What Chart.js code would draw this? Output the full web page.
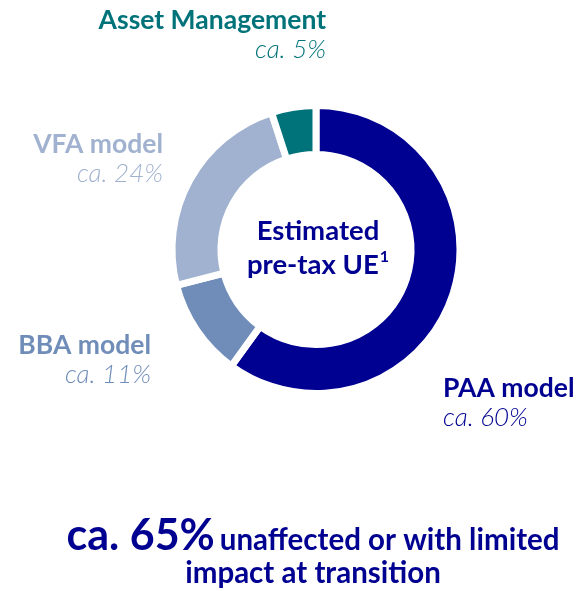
<!DOCTYPE html>
<html>
<head>
<meta charset="utf-8">
<script src="https://cdn.jsdelivr.net/npm/chart.js@4"></script>
<style>
  html, body { margin: 0; padding: 0; background: #fff; }
  #wrap { position: relative; width: 577px; height: 591px; }
</style>
</head>
<body>
<div id="wrap"><canvas id="c" width="577" height="591"></canvas></div>
<script>
// Datos
const categories = ['PAA model', 'BBA model', 'VFA model', 'Asset Management'];
const shares = [60, 11, 24, 5];
const shareLabels = ['ca. 60%', 'ca. 11%', 'ca. 24%', 'ca. 5%'];
const colors = ['#000091', '#6f8db8', '#a0b2cf', '#00737a'];
const centerLines = ['Estimated', 'pre-tax UE'];
const footnoteMark = '1';
const summaryValue = 'ca. 65%';
const summaryText = ['unaffected or with limited', 'impact at transition'];

// Posición de las etiquetas (x, línea base del nombre, alineación)
const labelPos = [
  { x: 443, y: 397, align: 'left' },
  { x: 151, y: 354, align: 'right' },
  { x: 163, y: 153, align: 'right' },
  { x: 326, y: 29, align: 'right' }
];

const FONT = 'Lato, "Open Sans", sans-serif';

const labelPlugin = {
  id: 'labels',
  afterDraw(chart) {
    const ctx = chart.ctx;
    ctx.save();
    ctx.textBaseline = 'alphabetic';

    // etiquetas de cada segmento
    categories.forEach((name, i) => {
      const p = labelPos[i];
      ctx.textAlign = p.align;
      ctx.fillStyle = colors[i];
      ctx.font = `bold 26.5px ${FONT}`;
      ctx.fillText(name, p.x, p.y);
      ctx.font = `italic 300 26px ${FONT}`;
      ctx.fillText(shareLabels[i], p.x, p.y + 29);
    });

    // texto central
    const arc = chart.getDatasetMeta(0).data[0];
    const cx = arc.x + 2, cy = arc.y;
    ctx.fillStyle = colors[0];
    ctx.textAlign = 'center';
    ctx.font = `bold 27.5px ${FONT}`;
    ctx.fillText(centerLines[0], cx, cy - 10);
    ctx.textAlign = 'left';
    const w1 = ctx.measureText(centerLines[1]).width;
    ctx.font = `bold 16px ${FONT}`;
    const w2 = ctx.measureText(footnoteMark).width;
    let sx = cx - (w1 + w2 + 1) / 2;
    ctx.font = `bold 27.5px ${FONT}`;
    ctx.fillText(centerLines[1], sx, cy + 24);
    ctx.font = `bold 16px ${FONT}`;
    ctx.fillText(footnoteMark, sx + w1 + 1, cy + 12);

    // resumen inferior
    const mid = 313;
    ctx.font = `bold 43px ${FONT}`;
    const a = ctx.measureText(summaryValue).width;
    ctx.font = `bold 29.5px ${FONT}`;
    const gap = 5;
    const b = ctx.measureText(summaryText[0]).width;
    sx = mid - (a + gap + b) / 2;
    ctx.font = `bold 43px ${FONT}`;
    ctx.fillText(summaryValue, sx, 550);
    ctx.font = `bold 29.5px ${FONT}`;
    ctx.fillText(summaryText[0], sx + a + gap, 550);
    ctx.textAlign = 'center';
    ctx.fillText(summaryText[1], mid, 583);

    ctx.restore();
  }
};

new Chart(document.getElementById('c'), {
  type: 'doughnut',
  data: {
    labels: categories,
    datasets: [{
      data: shares,
      backgroundColor: colors,
      borderColor: '#ffffff',
      borderWidth: 7,
      borderJoinStyle: 'miter',
      hoverOffset: 0
    }]
  },
  options: {
    responsive: false,
    animation: false,
    radius: 144,
    cutout: '66%',
    rotation: 0,
    layout: { padding: { left: 160, right: 105, top: 90, bottom: 182 } },
    plugins: {
      legend: { display: false },
      tooltip: { enabled: false }
    }
  },
  plugins: [labelPlugin]
});
</script>
</body>
</html>
